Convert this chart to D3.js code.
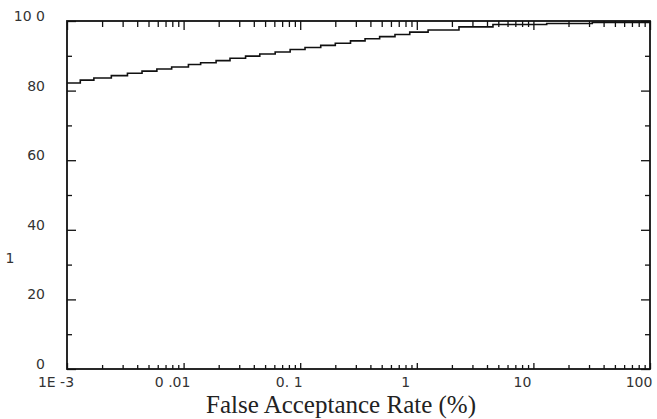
<!DOCTYPE html>
<html>
<head>
<meta charset="utf-8">
<script src="https://cdn.jsdelivr.net/npm/d3@7"></script>
<style>
  html, body { margin: 0; padding: 0; background: #fff; }
  svg { display: block; }
</style>
</head>
<body>
<svg id="chart" width="657" height="419"></svg>
<script>
// step points of the curve
const farValues = [0.001, 0.0013, 0.0017, 0.0024, 0.0033, 0.0044, 0.0059, 0.0079, 0.011, 0.014,
  0.019, 0.025, 0.034, 0.045, 0.061, 0.082, 0.11, 0.15, 0.2, 0.27,
  0.36, 0.48, 0.65, 0.87, 1.25, 2.3, 4.5, 13, 32, 100];
const garValues = [82.2, 83.0, 83.6, 84.3, 85.0, 85.6, 86.2, 86.8, 87.5, 88.0,
  88.6, 89.3, 89.9, 90.5, 91.1, 91.8, 92.4, 93.0, 93.6, 94.3,
  94.9, 95.5, 96.1, 96.8, 97.4, 98.3, 99.0, 99.3, 99.6, 99.6];

const xTickValues = [0.001, 0.01, 0.1, 1, 10, 100];
const xTickLabels = ['1E -3', '0 .01', '0. 1', '1', '10', '100'];
const yTickValues = [0, 20, 40, 60, 80, 100];
const yTickLabels = ['0', '20', '40', '60', '80', '10 0'];
const yMinorValues = [10, 30, 50, 70, 90];
const xTitle = 'False Acceptance Rate (%)';

const plotLeft = 67;
const plotRight = 650;
const plotTop = 21;
const plotBottom = 369;

const svg = d3.select('#chart');

const x = d3.scaleLog().domain([0.001, 100]).range([plotLeft, plotRight]);
const y = d3.scaleLinear().domain([0, 100]).range([plotBottom, plotTop]);

const xMinor = x.ticks().filter((v) => !xTickValues.includes(v));

const styleAxis = (g) => {
  g.select('.domain').remove();
  g.selectAll('line').attr('stroke', '#111').attr('stroke-width', 1.3);
};

// bottom axis, ticks pointing up
svg.append('g')
  .attr('transform', `translate(0,${plotBottom})`)
  .call(d3.axisBottom(x).tickValues(xTickValues).tickSize(-6).tickFormat(''))
  .call(styleAxis);
svg.append('g')
  .attr('transform', `translate(0,${plotBottom})`)
  .call(d3.axisBottom(x).tickValues(xMinor).tickSize(-4).tickFormat(''))
  .call(styleAxis);

// top axis, ticks pointing down
svg.append('g')
  .attr('transform', `translate(0,${plotTop})`)
  .call(d3.axisTop(x).tickValues(xTickValues).tickSize(-9).tickFormat(''))
  .call(styleAxis);
svg.append('g')
  .attr('transform', `translate(0,${plotTop})`)
  .call(d3.axisTop(x).tickValues(xMinor).tickSize(-6).tickFormat(''))
  .call(styleAxis);

// left and right axes
svg.append('g')
  .attr('transform', `translate(${plotLeft},0)`)
  .call(d3.axisLeft(y).tickValues(yTickValues).tickSize(-9).tickFormat(''))
  .call(styleAxis);
svg.append('g')
  .attr('transform', `translate(${plotLeft},0)`)
  .call(d3.axisLeft(y).tickValues(yMinorValues).tickSize(-5).tickFormat(''))
  .call(styleAxis);
svg.append('g')
  .attr('transform', `translate(${plotRight},0)`)
  .call(d3.axisRight(y).tickValues(yTickValues).tickSize(-9).tickFormat(''))
  .call(styleAxis);
svg.append('g')
  .attr('transform', `translate(${plotRight},0)`)
  .call(d3.axisRight(y).tickValues(yMinorValues).tickSize(-5).tickFormat(''))
  .call(styleAxis);

// frame
svg.append('rect')
  .attr('x', plotLeft)
  .attr('y', plotTop)
  .attr('width', plotRight - plotLeft)
  .attr('height', plotBottom - plotTop)
  .attr('fill', 'none')
  .attr('stroke', '#111')
  .attr('stroke-width', 1.8);

// tick labels
svg.selectAll('.xlabel')
  .data(xTickValues)
  .enter()
  .append('text')
  .attr('x', (d) => x(d) - 11)
  .attr('y', 387)
  .attr('text-anchor', 'middle')
  .style('font-family', 'DejaVu Sans, sans-serif')
  .style('font-size', '14px')
  .style('fill', '#333')
  .text((d, i) => xTickLabels[i]);

svg.selectAll('.ylabel')
  .data(yTickValues)
  .enter()
  .append('text')
  .attr('x', 45)
  .attr('y', (d) => y(d) - 5)
  .attr('dy', '0.35em')
  .attr('text-anchor', 'end')
  .style('font-family', 'DejaVu Sans, sans-serif')
  .style('font-size', '14px')
  .style('fill', '#333')
  .text((d, i) => yTickLabels[i]);

// cut-off y title remnant
svg.append('text')
  .attr('x', 10)
  .attr('y', 263)
  .attr('text-anchor', 'middle')
  .style('font-family', 'DejaVu Sans, sans-serif')
  .style('font-size', '14px')
  .style('fill', '#333')
  .text('1');

// axis title
svg.append('text')
  .attr('x', 341)
  .attr('y', 413)
  .attr('text-anchor', 'middle')
  .style('font-family', 'Liberation Serif, Times New Roman, serif')
  .style('font-size', '25px')
  .style('fill', '#222')
  .text(xTitle);

// curve
const points = farValues.map((f, i) => [f, garValues[i]]);
svg.append('path')
  .datum(points)
  .attr('fill', 'none')
  .attr('stroke', '#111')
  .attr('stroke-width', 1.6)
  .attr('d', d3.line()
    .x((d) => x(d[0]))
    .y((d) => y(d[1]))
    .curve(d3.curveStepAfter));
</script>
</body>
</html>
